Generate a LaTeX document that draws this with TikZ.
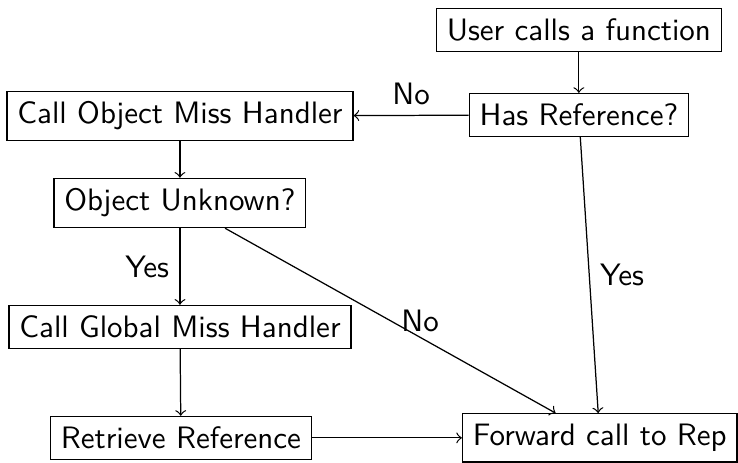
\documentclass[tikz,border=0pt]{standalone}
\begin{document}
\begin{tikzpicture}[
  every node/.style = {font=\sffamily},
  stepbox/.style = {shape=rectangle, draw}
]
  \useasboundingbox (0,0) rectangle (8.37,-5.25);
  \node[stepbox] (user) at (6.565,-0.34) {User calls a function};
  \node[stepbox] (has) at (6.565,-1.304) {Has Reference?};
  \node[stepbox] (objmiss) at (2.041,-1.315) {Call Object Miss Handler};
  \node[stepbox] (unknown) at (2.041,-2.302) {Object Unknown?};
  \node[stepbox] (globalmiss) at (2.041,-3.707) {Call Global Miss Handler};
  \node[stepbox] (retrieve) at (2.052,-4.966) {Retrieve Reference};
  \node[stepbox] (forward) at (6.803,-4.966) {Forward call to Rep};

  \draw[->] (user) -- (has);
  \draw[->] (has) -- node[midway, above] {No} (objmiss);
  \draw[->] (has) -- node[midway, right] {Yes} (forward);
  \draw[->] (objmiss) -- (unknown);
  \draw[->] (unknown) -- node[midway, left] {Yes} (globalmiss);
  \draw[->] (unknown) -- node[midway, right] {No} (forward);
  \draw[->] (globalmiss) -- (retrieve);
  \draw[->] (retrieve) -- (forward);
\end{tikzpicture}
\end{document}
